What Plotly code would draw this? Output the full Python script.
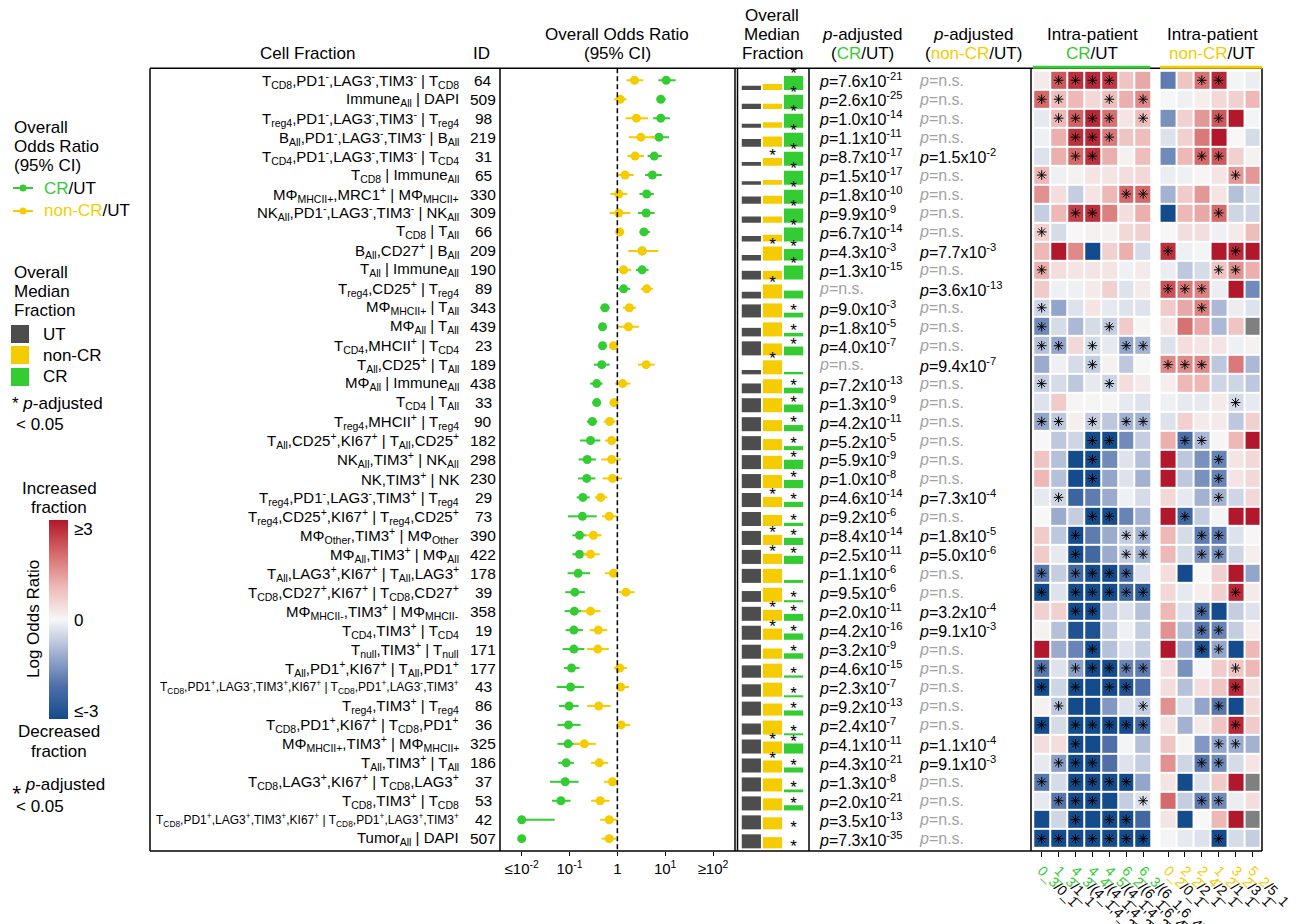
import numpy as np
import plotly.graph_objects as go

W, H = 1303, 924
FONT = "Liberation Sans, Arial, sans-serif"
GREEN = "#33CC33"
YELLOW = "#F5CC00"
DARK = "#4D4D4D"
NS_GREY = "#A3A3A3"


def fx(px):
    return px / W


def fy(py):
    return 1 - py / H


# ---------------------------------------------------------------- data
cell_fraction = [
    "T<sub>CD8</sub>,PD1<sup>-</sup>,LAG3<sup>-</sup>,TIM3<sup>-</sup> | T<sub>CD8</sub>",
    "Immune<sub>All</sub> | DAPI",
    "T<sub>reg4</sub>,PD1<sup>-</sup>,LAG3<sup>-</sup>,TIM3<sup>-</sup> | T<sub>reg4</sub>",
    "B<sub>All</sub>,PD1<sup>-</sup>,LAG3<sup>-</sup>,TIM3<sup>-</sup> | B<sub>All</sub>",
    "T<sub>CD4</sub>,PD1<sup>-</sup>,LAG3<sup>-</sup>,TIM3<sup>-</sup> | T<sub>CD4</sub>",
    "T<sub>CD8</sub> | Immune<sub>All</sub>",
    "MΦ<sub>MHCII+</sub>,MRC1<sup>+</sup> | MΦ<sub>MHCII+</sub>",
    "NK<sub>All</sub>,PD1<sup>-</sup>,LAG3<sup>-</sup>,TIM3<sup>-</sup> | NK<sub>All</sub>",
    "T<sub>CD8</sub> | T<sub>All</sub>",
    "B<sub>All</sub>,CD27<sup>+</sup> | B<sub>All</sub>",
    "T<sub>All</sub> | Immune<sub>All</sub>",
    "T<sub>reg4</sub>,CD25<sup>+</sup> | T<sub>reg4</sub>",
    "MΦ<sub>MHCII+</sub> | T<sub>All</sub>",
    "MΦ<sub>All</sub> | T<sub>All</sub>",
    "T<sub>CD4</sub>,MHCII<sup>+</sup> | T<sub>CD4</sub>",
    "T<sub>All</sub>,CD25<sup>+</sup> | T<sub>All</sub>",
    "MΦ<sub>All</sub> | Immune<sub>All</sub>",
    "T<sub>CD4</sub> | T<sub>All</sub>",
    "T<sub>reg4</sub>,MHCII<sup>+</sup> | T<sub>reg4</sub>",
    "T<sub>All</sub>,CD25<sup>+</sup>,KI67<sup>+</sup> | T<sub>All</sub>,CD25<sup>+</sup>",
    "NK<sub>All</sub>,TIM3<sup>+</sup> | NK<sub>All</sub>",
    "NK,TIM3<sup>+</sup> | NK",
    "T<sub>reg4</sub>,PD1<sup>-</sup>,LAG3<sup>-</sup>,TIM3<sup>+</sup> | T<sub>reg4</sub>",
    "T<sub>reg4</sub>,CD25<sup>+</sup>,KI67<sup>+</sup> | T<sub>reg4</sub>,CD25<sup>+</sup>",
    "MΦ<sub>Other</sub>,TIM3<sup>+</sup> | MΦ<sub>Other</sub>",
    "MΦ<sub>All</sub>,TIM3<sup>+</sup> | MΦ<sub>All</sub>",
    "T<sub>All</sub>,LAG3<sup>+</sup>,KI67<sup>+</sup> | T<sub>All</sub>,LAG3<sup>+</sup>",
    "T<sub>CD8</sub>,CD27<sup>+</sup>,KI67<sup>+</sup> | T<sub>CD8</sub>,CD27<sup>+</sup>",
    "MΦ<sub>MHCII-</sub>,TIM3<sup>+</sup> | MΦ<sub>MHCII-</sub>",
    "T<sub>CD4</sub>,TIM3<sup>+</sup> | T<sub>CD4</sub>",
    "T<sub>null</sub>,TIM3<sup>+</sup> | T<sub>null</sub>",
    "T<sub>All</sub>,PD1<sup>+</sup>,KI67<sup>+</sup> | T<sub>All</sub>,PD1<sup>+</sup>",
    "T<sub>CD8</sub>,PD1<sup>+</sup>,LAG3<sup>-</sup>,TIM3<sup>+</sup>,KI67<sup>+</sup> | T<sub>CD8</sub>,PD1<sup>+</sup>,LAG3<sup>-</sup>,TIM3<sup>+</sup>",
    "T<sub>reg4</sub>,TIM3<sup>+</sup> | T<sub>reg4</sub>",
    "T<sub>CD8</sub>,PD1<sup>+</sup>,KI67<sup>+</sup> | T<sub>CD8</sub>,PD1<sup>+</sup>",
    "MΦ<sub>MHCII+</sub>,TIM3<sup>+</sup> | MΦ<sub>MHCII+</sub>",
    "T<sub>All</sub>,TIM3<sup>+</sup> | T<sub>All</sub>",
    "T<sub>CD8</sub>,LAG3<sup>+</sup>,KI67<sup>+</sup> | T<sub>CD8</sub>,LAG3<sup>+</sup>",
    "T<sub>CD8</sub>,TIM3<sup>+</sup> | T<sub>CD8</sub>",
    "T<sub>CD8</sub>,PD1<sup>+</sup>,LAG3<sup>+</sup>,TIM3<sup>+</sup>,KI67<sup>+</sup> | T<sub>CD8</sub>,PD1<sup>+</sup>,LAG3<sup>+</sup>,TIM3<sup>+</sup>",
    "Tumor<sub>All</sub> | DAPI",
]
long_label_rows = {33, 40}

fraction_id = [64, 509, 98, 219, 31, 65, 330, 309, 66, 209, 190, 89, 343, 439, 23,
               189, 438, 33, 90, 182, 298, 230, 29, 73, 390, 422, 178, 39, 358, 19,
               171, 177, 43, 86, 36, 325, 186, 37, 53, 42, 507]

# overall odds ratios with 95% CI, CR vs UT
cr_or = [10.5, 8.1, 8.1, 7.4, 5.9, 5.4, 4.1, 4.0, 3.6, 3.3, 3.3, 1.35, 0.55, 0.49, 0.49,
         0.47, 0.37, 0.37, 0.30, 0.275, 0.234, 0.229, 0.19, 0.186, 0.162, 0.162, 0.151,
         0.129, 0.126, 0.123, 0.123, 0.110, 0.105, 0.098, 0.095, 0.093, 0.085, 0.081,
         0.066, 0.004, 0.002]
cr_lo = [7.2, 6.6, 5.6, 5.0, 4.3, 3.8, 2.9, 2.7, 2.9, 2.5, 2.45, 1.02, 0.44, 0.42, 0.41,
         0.32, 0.27, 0.30, 0.23, 0.166, 0.155, 0.151, 0.141, 0.093, 0.115, 0.115, 0.091,
         0.081, 0.079, 0.083, 0.072, 0.076, 0.054, 0.060, 0.056, 0.056, 0.058, 0.039,
         0.043, 0.001, 0.0005]
cr_hi = [16.6, 10.2, 12.6, 12.0, 8.5, 8.5, 5.8, 6.0, 4.8, 4.5, 4.5, 1.86, 0.69, 0.59, 0.59,
         0.69, 0.49, 0.45, 0.38, 0.44, 0.355, 0.347, 0.263, 0.37, 0.224, 0.224, 0.269,
         0.209, 0.178, 0.191, 0.204, 0.162, 0.20, 0.155, 0.17, 0.158, 0.123, 0.155,
         0.105, 0.049, 0.006]

# overall odds ratios with 95% CI, non-CR vs UT
ncr_or = [2.28, 1.15, 2.5, 3.1, 2.34, 1.45, 1.07, 1.07, 1.12, 3.3, 1.35, 4.1, 1.78, 1.7,
          0.83, 4.0, 1.29, 0.85, 0.69, 0.76, 0.76, 0.79, 0.447, 0.676, 0.316, 0.275,
          0.83, 1.51, 0.275, 0.398, 0.389, 1.12, 1.17, 0.407, 1.2, 0.204, 0.417, 0.79,
          0.437, 0.676, 0.676]
ncr_lo = [1.55, 0.85, 1.48, 1.74, 1.62, 0.95, 0.72, 0.69, 0.91, 1.7, 0.98, 3.1, 1.32, 1.02,
          0.69, 2.7, 0.89, 0.69, 0.52, 0.55, 0.457, 0.49, 0.339, 0.479, 0.214, 0.195,
          0.55, 1.07, 0.178, 0.263, 0.234, 0.85, 0.95, 0.234, 1.0, 0.123, 0.282, 0.525,
          0.282, 0.437, 0.468]
ncr_hi = [3.47, 1.55, 4.4, 6.2, 3.6, 2.19, 1.62, 1.86, 1.35, 7.2, 1.95, 5.6, 2.45, 2.8,
          1.02, 6.0, 1.86, 1.07, 0.91, 1.07, 1.17, 1.26, 0.617, 1.0, 0.468, 0.427, 1.02,
          2.29, 0.447, 0.617, 0.661, 1.58, 1.74, 0.724, 1.86, 0.355, 0.646, 1.02, 0.69,
          1.0, 0.95]

# overall median fractions, relative to the largest group in each row
ut_med = [0.29, 0.36, 0.29, 0.55, 0.26, 0.24, 0.52, 0.43, 0.40, 0.40, 0.62, 0.48, 0.93,
          0.61, 1.0, 0.31, 0.70, 1.0, 1.0, 1.0, 1.0, 1.0, 1.0, 1.0, 1.0, 1.0, 1.0, 0.77,
          1.0, 1.0, 1.0, 0.88, 0.88, 1.0, 0.79, 1.0, 1.0, 1.0, 1.0, 1.0, 1.0]
ncr_med = [0.43, 0.36, 0.40, 0.74, 0.55, 0.33, 0.57, 0.43, 0.48, 1.0, 0.62, 1.0, 1.0, 1.0,
           0.85, 1.0, 1.0, 1.0, 0.79, 0.79, 0.95, 0.93, 0.72, 0.79, 0.72, 0.72, 1.0, 1.0,
           0.78, 0.80, 0.73, 1.0, 1.0, 0.86, 1.0, 0.86, 0.86, 0.93, 0.86, 0.86, 0.80]
cr_med = [1.0, 1.0, 1.0, 1.0, 1.0, 1.0, 1.0, 1.0, 1.0, 0.83, 1.0, 0.56, 0.34, 0.25, 0.63,
          0.17, 0.40, 0.55, 0.44, 0.29, 0.67, 0.58, 0.37, 0.23, 0.51, 0.58, 0.21, 0.12,
          0.49, 0.45, 0.39, 0.16, 0.09, 0.37, 0.09, 0.72, 0.36, 0.14, 0.37, 0.0, 0.0]
ncr_med_sig = [0, 0, 0, 0, 1, 0, 0, 0, 0, 1, 0, 1, 0, 0, 0, 1, 0, 0, 0, 0, 0, 0, 1, 0, 1,
               1, 0, 0, 1, 1, 0, 0, 0, 0, 0, 1, 1, 0, 0, 0, 0]
cr_med_sig = [1, 1, 1, 1, 1, 1, 1, 1, 1, 1, 1, 0, 1, 1, 1, 0, 1, 1, 1, 1, 1, 1, 1, 1, 1,
              1, 0, 1, 1, 1, 1, 1, 1, 1, 1, 1, 1, 1, 1, 1, 1]

# adjusted p-values (None = not significant)
p_cr = [7.6e-21, 2.6e-25, 1.0e-14, 1.1e-11, 8.7e-17, 1.5e-17, 1.8e-10, 9.9e-9, 6.7e-14,
        4.3e-3, 1.3e-15, None, 9.0e-3, 1.8e-5, 4.0e-7, None, 7.2e-13, 1.3e-9, 4.2e-11,
        5.2e-5, 5.9e-9, 1.0e-8, 4.6e-14, 9.2e-6, 8.4e-14, 2.5e-11, 1.1e-6, 9.5e-6,
        2.0e-11, 4.2e-16, 3.2e-9, 4.6e-15, 2.3e-7, 9.2e-13, 2.4e-7, 4.1e-11, 4.3e-21,
        1.3e-8, 2.0e-21, 3.5e-13, 7.3e-35]
p_ncr = [None, None, None, None, 1.5e-2, None, None, None, None, 7.7e-3, None, 3.6e-13,
         None, None, None, 9.4e-7, None, None, None, None, None, None, 7.3e-4, None,
         1.8e-5, 5.0e-6, None, None, 3.2e-4, 9.1e-3, None, None, None, None, None,
         1.1e-4, 9.1e-3, None, None, None, None]

# intra-patient log odds ratios (CR sample vs. UT sample of the same patient)
cr_pairs = ["0_3/0_1", "1_3/1_1", "4_3/(4_1,4_2)", "4_4/(4_1,4_2)", "4_5/(4_1,4_2)",
            "6_2/(6_1,6_4)", "6_3/(6_1,6_4)"]
ncr_pairs = ["0_2/0_1", "2_2/2_1", "2_4/2_1", "1_2/1_1", "3_2/3_1", "5_2/5_1"]

cr_lor = [
    [0.2, 2.2, 2.7, 2.8, 2.6, 0.8, 1.2],
    [2.0, 0.9, 1.0, 0.5, 0.9, 1.1, 1.6],
    [-0.2, 1.0, 2.1, 2.8, 1.9, 0.3, 0.9],
    [-0.1, 1.1, 2.7, 2.8, 1.8, 0.8, 0.9],
    [-0.3, 1.1, 2.0, 2.7, 1.1, 0.1, 0.9],
    [1.0, -0.1, 0.1, 0.3, 0.3, 0.4, 0.5],
    [1.5, 0.4, -0.6, 0.3, 1.0, 2.0, 2.0],
    [-0.6, 1.0, 2.5, 2.7, 1.7, 0.4, 1.1],
    [0.6, -0.4, 0.0, 0.1, 0.1, 0.5, 0.6],
    [1.0, 3.0, 1.6, -3.0, 0.6, 1.1, -0.4],
    [1.1, 0.4, 0.3, 0.3, 0.3, -0.1, 0.2],
    [0.7, -0.1, -0.1, 0.2, 0.6, -0.3, 0.2],
    [-0.5, -1.2, -0.3, 0.3, -0.2, -0.3, -0.3],
    [-1.6, -0.4, -0.9, -0.4, -0.6, 0.7, 0.05],
    [-0.8, -1.2, 0.5, -0.4, -0.2, -1.2, -1.0],
    [-1.1, -0.1, -0.4, -0.6, 0.1, -0.7, 0.0],
    [-0.6, -0.4, -0.7, -0.2, -0.5, 0.4, 0.2],
    [-0.3, 0.7, 0.05, 0.05, 0.05, -0.2, -0.3],
    [-1.2, -0.7, 0.15, -0.6, -0.7, -1.0, -1.0],
    [0.0, -0.7, -0.5, -3.0, -3.0, -1.6, -0.6],
    [0.8, -0.8, -3.0, -3.0, -1.6, -0.3, -0.8],
    [1.0, -0.8, -3.0, -3.0, -1.2, -0.3, -1.0],
    [-0.2, -0.5, -2.3, -1.8, -1.1, -0.1, -0.4],
    [0.0, -1.1, -0.6, -3.0, -3.0, -1.7, -1.0],
    [0.7, -0.7, -3.0, -1.8, -1.1, -0.6, -1.0],
    [0.7, -0.2, -3.0, -2.2, -1.1, -0.6, -1.0],
    [-1.9, -0.6, -2.2, -3.0, -3.0, -2.1, -0.3],
    [-3.0, -0.3, -3.0, -3.0, -3.0, -2.2, -2.5],
    [0.6, 0.6, -3.0, -3.0, -0.7, -0.3, -0.8],
    [0.1, -0.8, -2.8, -2.8, -0.7, -0.1, -0.6],
    [3.0, -1.1, -1.7, -3.0, -0.8, -0.3, -0.6],
    [-1.9, -0.3, -1.3, -3.0, -3.0, -1.7, -1.8],
    [-3.0, -0.5, -3.0, -3.0, -3.0, -2.8, -2.0],
    [0.1, -0.7, -3.0, -3.0, -1.4, -0.3, -0.6],
    [-3.0, -0.4, -3.0, -3.0, -3.0, -3.0, -2.2],
    [0.4, 0.4, -3.0, -3.0, -2.0, -0.05, -0.8],
    [-0.2, -1.3, -3.0, -3.0, -2.0, -0.3, -0.6],
    [-1.9, -0.4, -3.0, -3.0, -3.0, -3.0, -1.2],
    [-0.2, -1.9, -3.0, -3.0, -3.0, -0.6, -0.3],
    [-3.0, -0.5, -3.0, -3.0, -3.0, -3.0, -2.2],
    [-3.0, -3.0, -3.0, -3.0, -3.0, -3.0, -3.0],
]
cr_sig = [
    [0, 1, 1, 1, 1, 0, 0], [1, 1, 0, 0, 1, 0, 1], [0, 1, 1, 1, 1, 0, 1],
    [0, 0, 1, 1, 1, 0, 0], [0, 0, 1, 1, 0, 0, 0], [1, 0, 0, 0, 0, 0, 0],
    [0, 0, 0, 0, 0, 1, 1], [0, 0, 1, 1, 0, 0, 0], [1, 0, 0, 0, 0, 0, 0],
    [0, 0, 0, 0, 0, 0, 0], [1, 0, 0, 0, 0, 0, 0], [0, 0, 0, 0, 0, 0, 0],
    [1, 0, 0, 0, 0, 0, 0], [1, 0, 0, 0, 1, 0, 0], [1, 1, 0, 1, 0, 1, 1],
    [0, 0, 0, 1, 0, 0, 0], [1, 0, 0, 0, 1, 0, 0], [0, 0, 0, 0, 0, 0, 0],
    [1, 1, 0, 1, 0, 1, 1], [0, 0, 0, 1, 1, 0, 0], [0, 0, 0, 1, 0, 0, 0],
    [0, 0, 0, 1, 0, 0, 0], [0, 1, 0, 0, 0, 0, 0], [0, 0, 0, 1, 1, 0, 0],
    [0, 0, 1, 0, 0, 1, 1], [0, 0, 1, 0, 0, 1, 1], [1, 0, 1, 1, 1, 1, 0],
    [1, 0, 1, 1, 1, 1, 1], [0, 0, 1, 1, 0, 0, 0], [0, 0, 0, 0, 0, 0, 0],
    [0, 0, 0, 1, 0, 0, 0], [1, 0, 1, 1, 1, 1, 1], [1, 0, 1, 0, 1, 1, 0],
    [0, 1, 0, 0, 0, 0, 1], [1, 0, 1, 1, 1, 1, 1], [0, 0, 1, 0, 0, 0, 0],
    [0, 1, 1, 1, 0, 0, 0], [1, 0, 1, 1, 1, 1, 0], [0, 1, 1, 1, 0, 0, 1],
    [0, 0, 1, 0, 1, 1, 0], [1, 1, 1, 1, 1, 1, 1],
]

# intra-patient log odds ratios (non-CR sample vs. UT sample); None = not estimable
ncr_lor = [
    [-1.8, 0.8, 1.9, 2.8, -0.05, -0.15],
    [0.02, -0.1, 0.15, 0.5, 0.6, 1.0],
    [-1.5, 0.6, 1.4, 2.2, 3.0, -0.05],
    [-0.3, 0.6, 1.8, 3.0, 0.0, -0.4],
    [-1.6, 1.0, 2.0, 2.2, 0.6, 0.1],
    [-0.15, -0.1, 0.05, 0.3, 1.4, 1.4],
    [-1.0, 0.7, 1.4, 0.3, -0.8, -0.4],
    [-3.0, 1.0, 1.2, 2.0, -0.5, -0.5],
    [0.0, 0.4, 0.4, -0.1, 0.2, 0.9],
    [2.7, -0.1, -0.05, 3.0, 2.8, 3.0],
    [-0.15, -0.7, -0.4, 0.8, 1.5, 1.1],
    [2.3, 1.8, 1.7, -0.15, 3.0, -1.6],
    [0.7, 1.2, 1.7, -0.9, -0.15, -0.3],
    [0.3, 1.9, 1.2, -0.9, 0.8, None],
    [-0.3, 0.4, 0.3, 0.3, -0.1, 0.1],
    [1.6, 1.6, 1.6, -0.7, 1.8, -0.9],
    [0.15, 1.0, 1.0, -0.5, -0.5, -0.7],
    [-0.1, -0.2, -0.2, 0.2, -0.4, -0.2],
    [-0.3, 0.6, 0.2, 0.2, -0.7, 0.6],
    [1.1, -2.0, -0.9, 0.05, 1.0, 3.0],
    [3.0, -0.7, -1.5, -1.7, 0.3, 0.5],
    [3.0, -0.7, -1.5, -1.7, 0.3, 0.5],
    [0.5, -0.2, -1.0, -1.0, -0.5, 0.5],
    [3.0, -2.2, -0.6, -0.05, 3.0, 3.0],
    [1.0, -0.4, -1.8, -1.8, -0.3, 0.03],
    [1.0, -0.4, -1.5, -1.5, -0.5, 0.15],
    [0.4, -3.0, 0.0, 0.6, 3.0, -1.2],
    [0.5, -0.2, 0.15, 0.6, 2.8, 0.2],
    [1.0, -0.3, -2.0, -3.0, -0.6, -0.3],
    [1.5, -0.8, -1.9, -1.7, -0.6, 0.15],
    [3.0, -1.0, -2.8, -1.2, -3.0, 1.0],
    [0.4, -1.5, 0.02, 0.7, 0.8, 1.0],
    [0.4, -0.8, 0.4, 0.8, 2.8, 0.4],
    [1.5, -0.3, -1.2, -1.9, -3.0, 0.5],
    [0.3, -1.0, 0.2, 0.8, 2.8, 0.7],
    [0.8, 0.05, -1.4, -1.2, -1.1, -1.0],
    [1.5, -0.5, -1.9, -1.6, -0.4, 0.3],
    [0.3, -3.0, -0.3, 0.7, 3.0, None],
    [2.0, -0.6, -1.8, -1.6, -0.15, 0.4],
    [0.3, -3.0, 0.0, 1.0, 3.0, None],
    [-0.05, -0.2, -0.3, -3.0, -0.4, -0.6],
]
ncr_sig = [
    [0, 0, 1, 1, 0, 0], [0, 0, 0, 0, 0, 0], [0, 0, 0, 1, 0, 0], [0, 0, 0, 0, 0, 0],
    [0, 0, 1, 1, 0, 0], [0, 0, 0, 0, 1, 0], [0, 0, 0, 0, 0, 0], [0, 0, 0, 1, 0, 0],
    [0, 0, 0, 0, 0, 0], [1, 0, 0, 0, 1, 0], [0, 0, 0, 1, 1, 0], [1, 1, 1, 0, 0, 0],
    [0, 0, 1, 0, 0, 0], [0, 0, 0, 0, 0, 0], [0, 0, 0, 0, 0, 0], [1, 1, 1, 0, 0, 0],
    [0, 0, 0, 0, 0, 0], [0, 0, 0, 0, 1, 0], [0, 0, 0, 0, 0, 0], [0, 1, 1, 0, 0, 0],
    [0, 0, 0, 1, 0, 0], [0, 0, 0, 1, 0, 0], [0, 0, 0, 1, 0, 0], [0, 1, 0, 0, 0, 0],
    [0, 0, 1, 1, 0, 0], [0, 0, 1, 1, 0, 0], [0, 0, 0, 0, 0, 0], [0, 0, 0, 0, 1, 0],
    [0, 0, 1, 0, 0, 0], [0, 0, 1, 1, 0, 0], [0, 0, 1, 1, 0, 0], [0, 0, 0, 0, 1, 0],
    [0, 0, 0, 0, 1, 0], [0, 0, 0, 1, 0, 0], [0, 0, 0, 0, 1, 0], [0, 0, 0, 1, 1, 0],
    [0, 0, 1, 1, 0, 0], [0, 0, 0, 0, 0, 0], [0, 0, 1, 1, 0, 0], [0, 0, 0, 0, 0, 0],
    [0, 0, 0, 1, 0, 0],
]

# ---------------------------------------------------------------- layout helpers
n_rows = len(cell_fraction)
rows = np.arange(1, n_rows + 1)
Y_TOP, Y_BOT = 68.3, 851.0          # pixel rows of the table frame
Y_RANGE = [41.65, 0.37]              # reversed: first row at the top
OR_MIN, OR_MAX = 0.01, 100.0
BAR_BASE, BAR_SCALE = 0.51, 0.74     # bars sit on the lower edge of each row

fig = go.Figure()


def clip_or(v):
    return float(np.clip(v, OR_MIN, OR_MAX))


# ---------------------------------------------------------------- forest plot
for est, lo, hi, col in [(cr_or, cr_lo, cr_hi, GREEN), (ncr_or, ncr_lo, ncr_hi, YELLOW)]:
    xs, ys = [], []
    for r, a, b in zip(rows, lo, hi):
        xs += [clip_or(a), clip_or(b), None]
        ys += [r, r, None]
    fig.add_trace(go.Scatter(x=xs, y=ys, mode="lines", line=dict(color=col, width=2),
                             xaxis="x", yaxis="y", hoverinfo="skip", showlegend=False))
    fig.add_trace(go.Scatter(x=[clip_or(v) for v in est], y=rows, mode="markers",
                             marker=dict(color=col, size=9, line=dict(width=0)),
                             xaxis="x", yaxis="y", showlegend=False))

fig.add_shape(type="line", xref="x", yref="y", x0=1, x1=1, y0=Y_RANGE[1], y1=Y_RANGE[0],
              line=dict(color="black", width=1.5, dash="5px,3px"))

# ---------------------------------------------------------------- median fraction bars
for k, (vals, col) in enumerate([(ut_med, DARK), (ncr_med, YELLOW), (cr_med, GREEN)]):
    h = np.array(vals) * BAR_SCALE
    fig.add_trace(go.Bar(x=[k] * n_rows, y=-h, base=rows + BAR_BASE, width=0.91,
                         marker=dict(color=col, line=dict(width=0)),
                         xaxis="x2", yaxis="y", showlegend=False))

for k, (vals, sig) in enumerate([(ncr_med, ncr_med_sig), (cr_med, cr_med_sig)], start=1):
    sy = [r + BAR_BASE - v * BAR_SCALE - 0.05 for r, v, s in zip(rows, vals, sig) if s]
    fig.add_trace(go.Scatter(x=[k] * len(sy), y=sy, mode="text", text=["*"] * len(sy),
                             textfont=dict(family=FONT, size=17, color="black"),
                             textposition="middle center",
                             xaxis="x2", yaxis="y", showlegend=False, hoverinfo="skip"))

# ---------------------------------------------------------------- intra-patient heatmaps
COLORSCALE = [[0.0, "#134B8C"], [0.1667, "#4E6FA8"], [0.3333, "#A4B2D2"],
              [0.5, "#F7F7F7"], [0.6667, "#EDB8B6"], [0.8333, "#D5696A"],
              [1.0, "#B2182B"]]
CB_TOP, CB_BOT = 520, 719


def add_heat(z, sig, axis, show_scale):
    ncol = len(z[0])
    fig.add_trace(go.Heatmap(
        z=z, x=list(range(ncol)), y=rows, zmin=-3, zmax=3, colorscale=COLORSCALE,
        xgap=2, ygap=2, xaxis=axis, yaxis="y", showscale=show_scale, hoverongaps=False,
        colorbar=dict(x=fx(49), xanchor="left", y=fy((CB_TOP + CB_BOT) / 2),
                      yanchor="middle", thickness=19, thicknessmode="pixels",
                      len=CB_BOT - CB_TOP, lenmode="pixels", outlinewidth=0,
                      showticklabels=False, ticks="", xpad=0, ypad=0)))
    na = [[1 if v is None else None for v in row] for row in z]
    if any(v is not None for row in na for v in row):
        fig.add_trace(go.Heatmap(z=na, x=list(range(ncol)), y=rows, xgap=2, ygap=2,
                                 colorscale=[[0, "#808080"], [1, "#808080"]],
                                 showscale=False, xaxis=axis, yaxis="y", hoverongaps=False))
    sx, sy = [], []
    for r, row in zip(rows, sig):
        for c, s in enumerate(row):
            if s:
                sx.append(c)
                sy.append(r)
    fig.add_trace(go.Scatter(x=sx, y=sy, mode="markers", xaxis=axis, yaxis="y",
                             marker=dict(symbol="asterisk-open", size=8, color="black",
                                         line=dict(color="black", width=1.0)),
                             showlegend=False, hoverinfo="skip"))


add_heat(cr_lor, cr_sig, "x3", True)
add_heat(ncr_lor, ncr_sig, "x4", False)


def pair_label(pair, col):
    head, tail = pair.split("/", 1)
    return f"<span style='color:{col}'>{head}</span>/{tail}"


# ---------------------------------------------------------------- axes
yd = [fy(Y_BOT), fy(Y_TOP)]
fig.update_layout(
    width=W, height=H, margin=dict(l=0, r=0, t=0, b=0),
    paper_bgcolor="white", plot_bgcolor="rgba(0,0,0,0)",
    font=dict(family=FONT, color="black"),
    barmode="overlay", showlegend=False,
    yaxis=dict(domain=yd, range=Y_RANGE, visible=False, fixedrange=True),
    xaxis=dict(domain=[fx(500), fx(735)], type="log", range=[-2.454, 2.46], anchor="y",
               tickvals=[0.01, 0.1, 1, 10, 100],
               ticktext=["≤10<sup>-2</sup>", "10<sup>-1</sup>", "1", "10<sup>1</sup>",
                         "≥10<sup>2</sup>"],
               ticks="outside", ticklen=4, tickwidth=1.2, tickcolor="black",
               showgrid=False, zeroline=False, showline=False,
               tickfont=dict(size=15), automargin=False),
    xaxis2=dict(domain=[fx(737), fx(809)], range=[-0.68, 2.73], anchor="y", visible=False),
    xaxis3=dict(domain=[fx(1033.25), fx(1151.55)], range=[-0.5, 6.5], anchor="y",
                tickvals=list(range(len(cr_pairs))),
                ticktext=[pair_label(p, GREEN) for p in cr_pairs],
                tickangle=45, ticks="outside", ticklen=5, tickwidth=1.2, tickcolor="black",
                showgrid=False, zeroline=False, showline=False,
                tickfont=dict(size=14), automargin=False),
    xaxis4=dict(domain=[fx(1159.55), fx(1260.95)], range=[-0.5, 5.5], anchor="y",
                tickvals=list(range(len(ncr_pairs))),
                ticktext=[pair_label(p, YELLOW) for p in ncr_pairs],
                tickangle=45, ticks="outside", ticklen=5, tickwidth=1.2, tickcolor="black",
                showgrid=False, zeroline=False, showline=False,
                tickfont=dict(size=14), automargin=False),
)

# ---------------------------------------------------------------- frame lines
def hline(x0, x1, y, col="black", w=1.5):
    fig.add_shape(type="line", xref="paper", yref="paper", x0=fx(x0), x1=fx(x1),
                  y0=fy(y), y1=fy(y), line=dict(color=col, width=w))


def vline(x, y0=Y_TOP, y1=Y_BOT, w=1.5):
    fig.add_shape(type="line", xref="paper", yref="paper", x0=fx(x), x1=fx(x),
                  y0=fy(y0), y1=fy(y1), line=dict(color="black", width=w))


hline(150, 1262, Y_TOP)
hline(150, 1262, Y_BOT)
for xv in [150, 500, 735, 737.5, 809, 1031, 1262]:
    vline(xv)
hline(1033, 1150, Y_TOP - 1, GREEN, 3)
hline(1160, 1262, Y_TOP - 1, YELLOW, 3)

# small tick dashes on both edges of the colour bar
for yy in [CB_TOP + 1, (CB_TOP + CB_BOT) / 2, CB_BOT - 1]:
    hline(49, 52, yy, "#555555", 1)
    hline(65, 68, yy, "#555555", 1)

# ---------------------------------------------------------------- table text
def note(text, x, y, size, xanchor="center", yref="paper", color="black", angle=0):
    fig.add_annotation(text=text, x=x, y=y, xref="paper", yref=yref, showarrow=False,
                       xanchor=xanchor, yanchor="middle", textangle=angle,
                       font=dict(family=FONT, size=size, color=color))


def fmt_p(p):
    if p is None:
        return f"<span style='color:{NS_GREY}'><i>p</i>=n.s.</span>"
    e = int(np.floor(np.log10(p)))
    m = p / 10 ** e
    if round(m, 1) >= 10:
        m, e = m / 10, e + 1
    return f"<i>p</i>={m:.1f}x10<sup>{e}</sup>"


for r, lab, cid, pc, pn in zip(rows, cell_fraction, fraction_id, p_cr, p_ncr):
    size = 12 if r in long_label_rows else 15
    note(lab, fx(461), r, size, xanchor="right", yref="y")
    note(str(cid), fx(483), r, 15.5, yref="y")
    note(fmt_p(pc), fx(817), r, 16, xanchor="left", yref="y")
    note(fmt_p(pn), fx(917), r, 16, xanchor="left", yref="y")

# column headers
HS = 17
g = f"<span style='color:{GREEN}'>CR</span>"
yl = f"<span style='color:{YELLOW}'>non-CR</span>"
note("Cell Fraction", fx(307), fy(54), HS)
note("ID", fx(481), fy(54), HS)
note("Overall Odds Ratio", fx(617), fy(35), HS)
note("(95% CI)", fx(617), fy(54), HS)
note("Overall", fx(772), fy(15), HS)
note("Median", fx(772), fy(35), HS)
note("Fraction", fx(772), fy(54), HS)
note("<i>p</i>-adjusted", fx(862), fy(35), HS)
note(f"({g}/UT)", fx(862), fy(54), HS)
note("<i>p</i>-adjusted", fx(973), fy(35), HS)
note(f"({yl}/UT)", fx(973), fy(54), HS)
note("Intra-patient", fx(1092), fy(35), HS)
note(f"{g}/UT", fx(1092), fy(54), HS)
note("Intra-patient", fx(1212), fy(35), HS)
note(f"{yl}/UT", fx(1212), fy(54), HS)

# ---------------------------------------------------------------- legends
LS = 17
note("Overall", fx(12), fy(127), LS, xanchor="left")
note("Odds Ratio", fx(12), fy(146), LS, xanchor="left")
note("(95% CI)", fx(12), fy(165), LS, xanchor="left")
for yy, lab, col in [(188, f"{g}/UT", GREEN), (211, f"{yl}/UT", YELLOW)]:
    hline(13, 33, yy, col, 2)
    fig.add_shape(type="circle", xref="paper", yref="paper",
                  x0=fx(19.5), x1=fx(26.5), y0=fy(yy - 3.5), y1=fy(yy + 3.5),
                  fillcolor=col, line=dict(width=0))
    note(lab, fx(42), fy(yy), LS, xanchor="left")

note("Overall", fx(12), fy(272), LS, xanchor="left")
note("Median", fx(12), fy(291), LS, xanchor="left")
note("Fraction", fx(12), fy(310), LS, xanchor="left")
for yy, lab, col in [(334, "UT", DARK), (355, "non-CR", YELLOW), (377, "CR", GREEN)]:
    fig.add_shape(type="rect", xref="paper", yref="paper",
                  x0=fx(11), x1=fx(29), y0=fy(yy + 9), y1=fy(yy - 9),
                  fillcolor=col, line=dict(width=0))
    note(lab, fx(41), fy(yy), LS, xanchor="left")
note("* <i>p</i>-adjusted", fx(10), fy(403), LS, xanchor="left")
note("&lt; 0.05", fx(14), fy(425), LS, xanchor="left")

note("Increased", fx(59), fy(488), LS)
note("fraction", fx(59), fy(507), LS)
note("Log Odds Ratio", fx(33), fy(619), LS, angle=-90)
note("≥3", fx(72), fy(529), LS, xanchor="left")
note("0", fx(72), fy(620), LS, xanchor="left")
note("≤-3", fx(72), fy(711), LS, xanchor="left")
note("Decreased", fx(59), fy(731), LS)
note("fraction", fx(59), fy(751), LS)
note("⁎ <i>p</i>-adjusted", fx(10), fy(784), LS, xanchor="left")
note("&lt; 0.05", fx(14), fy(806), LS, xanchor="left")

fig.write_html("out.html")
